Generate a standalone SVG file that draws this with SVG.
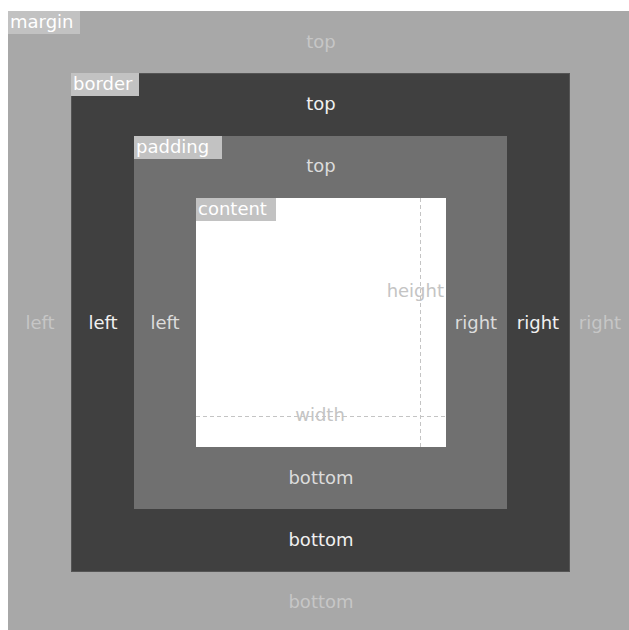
<svg xmlns="http://www.w3.org/2000/svg" width="629" height="630" viewBox="0 0 629 630">
<style>
text{font-family:"DejaVu Sans","Liberation Sans",sans-serif;font-size:18px;text-anchor:middle}
.lbl{fill:#ffffff;text-anchor:start}
.lbg{fill:#c2c2c2}
.m{fill:#c6c6c6}
.b{fill:#f0f0f0}
.p{fill:#dcdcdc}
.dim{fill:#c4c4c4}
.dash{stroke:#c4c4c4;stroke-width:1;stroke-dasharray:4 3;fill:none}
</style>
<rect width="629" height="630" fill="#ffffff"/>
<g id="margin">
<rect x="8" y="11" width="621" height="619" fill="#a8a8a8"/>
<rect class="lbg" x="8" y="11" width="72" height="23"/>
<text class="lbl" x="10" y="28">margin</text>
<text class="m" x="321" y="48">top</text>
<text class="m" x="321" y="608">bottom</text>
<text class="m" x="40" y="329">left</text>
<text class="m" x="600" y="329">right</text>
</g>
<g id="border">
<rect x="71.5" y="73.5" width="498" height="498" fill="#404040" stroke="#555555"/>
<rect class="lbg" x="71" y="73" width="68" height="23"/>
<text class="lbl" x="73" y="90">border</text>
<text class="b" x="321" y="110">top</text>
<text class="b" x="321" y="546">bottom</text>
<text class="b" x="103" y="329">left</text>
<text class="b" x="538" y="329">right</text>
</g>
<g id="padding">
<rect x="134" y="136" width="373" height="373" fill="#707070"/>
<rect class="lbg" x="134" y="136" width="88" height="23"/>
<text class="lbl" x="136" y="153">padding</text>
<text class="p" x="321" y="172">top</text>
<text class="p" x="321" y="484">bottom</text>
<text class="p" x="165" y="329">left</text>
<text class="p" x="476" y="329">right</text>
</g>
<g id="content">
<rect x="196" y="198" width="250" height="249" fill="#ffffff"/>
<rect class="lbg" x="196" y="198" width="80" height="23"/>
<text class="lbl" x="198" y="215">content</text>
</g>
<g id="connectors">
<line class="dash" x1="420.5" y1="198" x2="420.5" y2="447"/>
<line class="dash" x1="196" y1="416.5" x2="446" y2="416.5"/>
</g>
<g id="dimensions">
<text class="dim" x="444" y="297" style="text-anchor:end">height</text>
<text class="dim" x="320" y="421">width</text>
</g>
</svg>
